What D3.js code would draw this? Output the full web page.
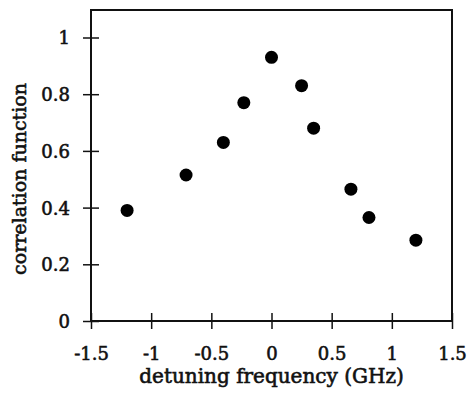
<!DOCTYPE html>
<html>
<head>
<meta charset="utf-8">
<script src="https://cdn.jsdelivr.net/npm/d3@7"></script>
<style>
  body { margin: 0; background: #fff; }
  svg { display: block; }
</style>
</head>
<body>
<svg id="chart" width="468" height="394"></svg>
<script>
// detuning (GHz) vs correlation
var detuning = [-1.2, -0.71, -0.40, -0.23, 0.0, 0.25, 0.35, 0.66, 0.81, 1.2];
var correlation = [0.39, 0.515, 0.63, 0.77, 0.93, 0.83, 0.68, 0.465, 0.365, 0.285];
var xTicks = [-1.5, -1, -0.5, 0, 0.5, 1, 1.5];
var yTicks = [0, 0.2, 0.4, 0.6, 0.8, 1];

var svg = d3.select("#chart"),
    margin = {top: 10, right: 16, bottom: 73, left: 91},
    width = +svg.attr("width") - margin.left - margin.right,
    height = +svg.attr("height") - margin.top - margin.bottom;

var fontFam = "'DejaVu Serif', 'Liberation Serif', serif";

var x = d3.scaleLinear().domain([-1.5, 1.5]).range([0, width]);
var y = d3.scaleLinear().domain([0, 1.097]).range([height, 0]);

var g = svg.append("g")
    .attr("transform", "translate(" + margin.left + "," + margin.top + ")");

// frame
g.append("rect")
    .attr("width", width)
    .attr("height", height)
    .attr("fill", "none")
    .attr("stroke", "#111")
    .attr("stroke-width", 2);

// ticks cross the axis line, so draw both halves
var xAxis = g.append("g")
    .attr("transform", "translate(0," + height + ")")
    .call(d3.axisBottom(x).tickValues(xTicks).tickSize(8)
          .tickFormat(function(d) { return d; }));
xAxis.selectAll(".tick line").clone().attr("y2", -8);

var yAxis = g.append("g")
    .call(d3.axisLeft(y).tickValues(yTicks).tickSize(8)
          .tickFormat(function(d) { return d; }));
yAxis.selectAll(".tick line").clone().attr("x2", 8);

[xAxis, yAxis].forEach(function(a) {
  a.select(".domain").remove();
  a.selectAll(".tick line").attr("stroke", "#111").attr("stroke-width", 1.5);
  a.selectAll(".tick text")
      .attr("fill", "#111")
      .attr("stroke", "#111")
      .attr("stroke-width", 0.6)
      .attr("font-family", fontFam)
      .attr("font-size", "18px");
});
xAxis.selectAll(".tick text").attr("dy", null).attr("y", 39);
yAxis.selectAll(".tick text").attr("x", -21).attr("dy", "0.36em");

// axis titles
svg.append("text")
    .attr("x", margin.left + x(0))
    .attr("y", 383)
    .attr("text-anchor", "middle")
    .attr("font-family", fontFam)
    .attr("font-size", "20px")
    .attr("fill", "#111")
    .attr("stroke", "#111")
    .attr("stroke-width", 0.6)
    .text("detuning frequency (GHz)");

svg.append("text")
    .attr("transform", "translate(26,179) rotate(-90)")
    .attr("text-anchor", "middle")
    .attr("font-family", fontFam)
    .attr("font-size", "19px")
    .attr("fill", "#111")
    .attr("stroke", "#111")
    .attr("stroke-width", 0.6)
    .text("correlation function");

// data points
g.selectAll("circle")
    .data(detuning.map(function(d, i) { return [d, correlation[i]]; }))
  .enter().append("circle")
    .attr("cx", function(d) { return x(d[0]); })
    .attr("cy", function(d) { return y(d[1]); })
    .attr("r", 6.5)
    .attr("fill", "#000");
</script>
</body>
</html>
